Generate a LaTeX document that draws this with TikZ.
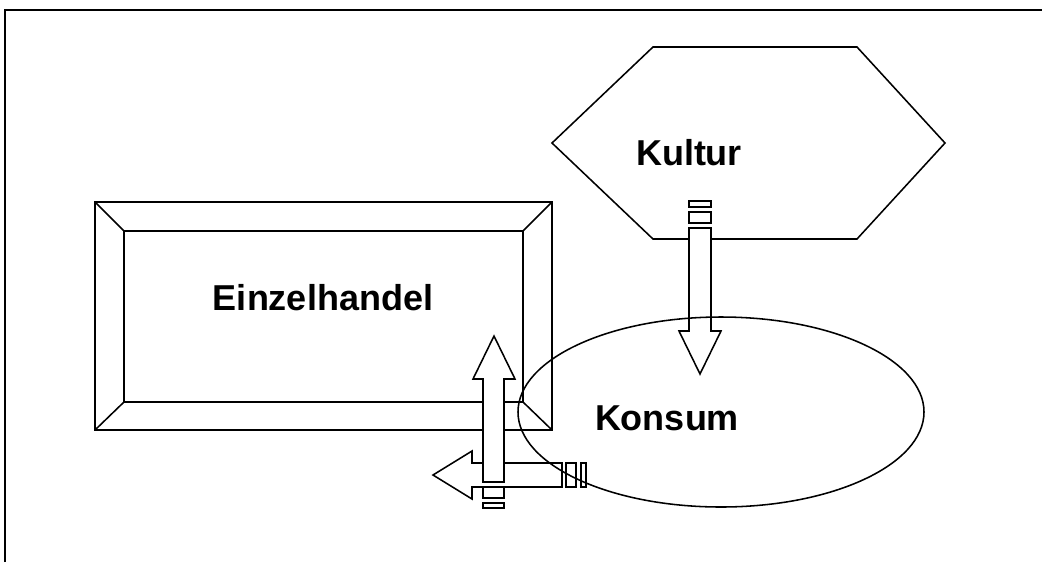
\documentclass[tikz,border=0pt]{standalone}
\usepackage{fontspec}
\setmainfont{Liberation Sans}
\usepackage{tikz}
\usetikzlibrary{positioning}

\begin{document}
\begin{tikzpicture}[x=0.025cm, y=-0.025cm, line width=1.1pt, line join=miter]
    \tikzstyle{label}=[font=\fontsize{25.6}{30}\selectfont\bfseries, inner sep=0pt, anchor=base]
    \tikzstyle{blockarrow}=[draw=black, fill=white]
    \tikzstyle{outline}=[draw=black, fill=white]

    \useasboundingbox (0,0) rectangle (1042,562);

    % --- FRAME ---
    \draw (5,562) -- (5,10) -- (1042,10);

    % --- SHAPES ---
    % Hexagon (Kultur)
    \path[outline] (552,143) -- (653,47) -- (857,47) -- (945,143) -- (857,239) -- (653,239) -- cycle;

    % Bevelled box (Einzelhandel)
    \path[outline] (95,202) rectangle (552,430);
    \draw (124,231) rectangle (523,402);
    \draw (95,202) -- (124,231)
          (552,202) -- (523,231)
          (95,430) -- (124,402)
          (552,430) -- (523,402);

    % --- BLOCK ARROWS ---
    % Kultur -> Konsum
    \path[blockarrow] (689,228) -- (711,228) -- (711,331) -- (721,331) -- (700,374)
                      -- (679,331) -- (689,331) -- cycle;
    \path[blockarrow] (689,212) rectangle (711,223);
    \path[blockarrow] (689,201) rectangle (711,207);

    % Konsum -> left
    \path[blockarrow] (562,463) -- (472,463) -- (472,451) -- (433,475) -- (472,499)
                      -- (472,487) -- (562,487) -- cycle;
    \path[blockarrow] (566,463) rectangle (576,487);
    \path[blockarrow] (581,463) rectangle (586,487);

    % Konsum -> Einzelhandel
    \path[blockarrow] (483,482) -- (504,482) -- (504,379) -- (515,379) -- (494,336)
                      -- (473,379) -- (483,379) -- cycle;
    \path[blockarrow] (483,487) rectangle (504,498);
    \path[blockarrow] (483,503) rectangle (504,508);

    % Ellipse (Konsum), drawn on top
    \draw (721,412) ellipse (203 and 95);

    % --- LABELS ---
    \node[label] (kultur) at (689,165) {Kultur};
    \node[label] (einzelhandel) at (323,310) {Einzelhandel};
    \node[label] (konsum) at (667,430) {Konsum};

\end{tikzpicture}
\end{document}
